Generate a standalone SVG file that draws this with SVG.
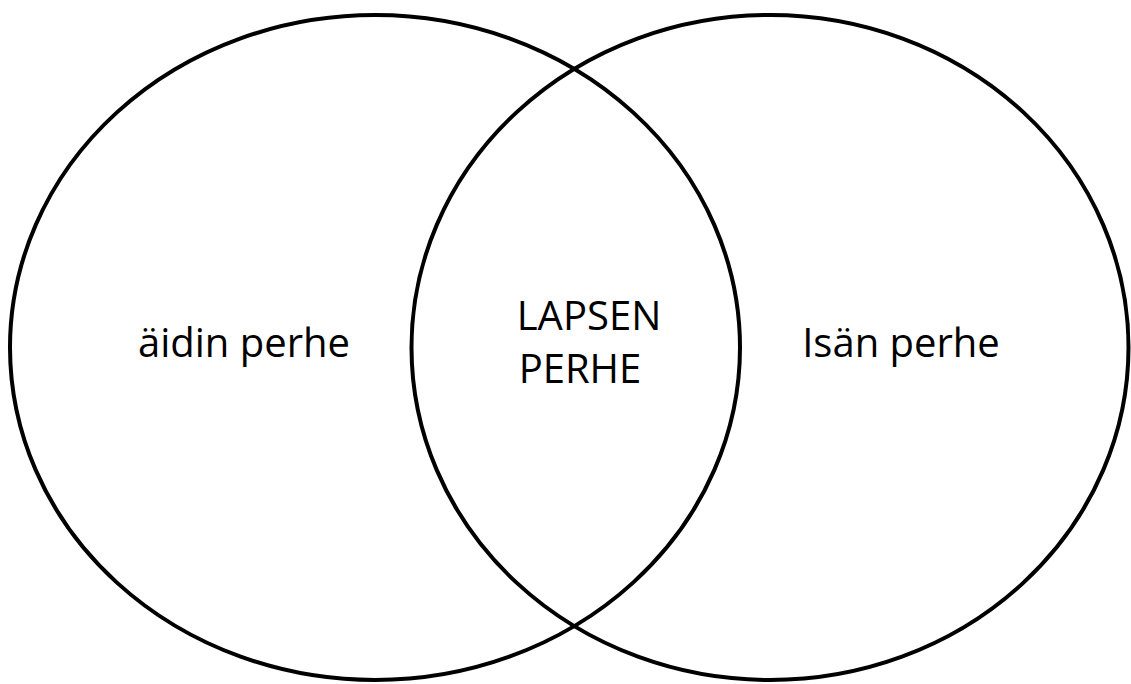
<svg xmlns="http://www.w3.org/2000/svg" width="1131" height="684" viewBox="0 0 1131 684">
<style>
.c{fill:none;stroke:#000;stroke-width:4}
.t{font-family:"Open Sans","Liberation Sans",sans-serif;font-size:40px;fill:#000;text-anchor:middle}
</style>
<rect width="1131" height="684" fill="#fff"/>
<g id="aidin">
<ellipse class="c" cx="375" cy="347.5" rx="365" ry="332.5"/>
<text class="t" x="244" y="357">äidin perhe</text>
</g>
<g id="isan">
<ellipse class="c" cx="770" cy="347.5" rx="358.5" ry="332.5"/>
<text class="t" x="901" y="357">Isän perhe</text>
</g>
<g id="lapsen">
<text class="t" x="589" y="330">LAPSEN</text>
<text class="t" x="580" y="383">PERHE</text>
</g>
<g id="connectors"/>
</svg>
